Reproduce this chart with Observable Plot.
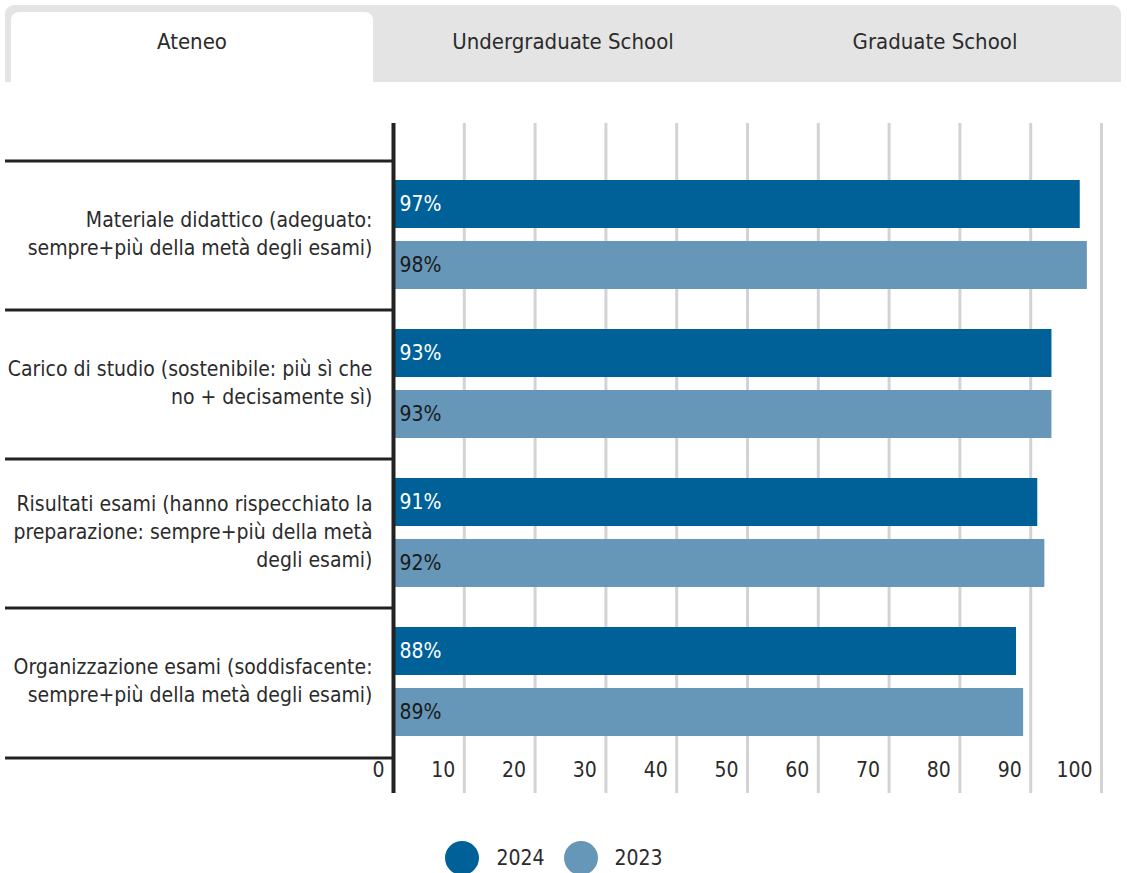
<!DOCTYPE html>
<html><head><meta charset="utf-8">
<script src="https://cdn.jsdelivr.net/npm/d3@7"></script>
<script src="https://cdn.jsdelivr.net/npm/@observablehq/plot@0.6"></script>
<style>
body{margin:0;background:#fff;font-family:"DejaVu Sans Condensed","DejaVu Sans",sans-serif;color:#2b2b2b;width:1127px;height:873px;position:relative;overflow:hidden;}
#tabs{position:absolute;left:5px;top:5px;width:1116px;height:77px;background:#e4e4e4;border-radius:9px 9px 0 0;}
.tab{position:absolute;top:0;height:74px;line-height:74px;width:372px;text-align:center;font-size:22px;color:#2b2b2b;}
.tab.active{background:#fff;left:6px;top:7px;width:362px;height:70px;line-height:60px;border-radius:8px 8px 0 0;}
#chart{position:absolute;left:0;top:90px;}
#legend{position:absolute;top:841px;left:0;width:1127px;display:flex;justify-content:center;align-items:center;font-size:21px;}
.sw{width:34px;height:34px;border-radius:50%;display:inline-block;margin-right:17px;}
.lab{margin-right:19px;}
</style></head><body>
<div id="tabs"></div>
<div id="chart"></div>
<div id="legend"></div>
<script>
const tabs = ["Ateneo", "Undergraduate School", "Graduate School"];
const categories = [
  "Materiale didattico (adeguato:\nsempre+più della metà degli esami)",
  "Carico di studio (sostenibile: più sì che\nno + decisamente sì)",
  "Risultati esami (hanno rispecchiato la\npreparazione: sempre+più della metà\ndegli esami)",
  "Organizzazione esami (soddisfacente:\nsempre+più della metà degli esami)"
];
const years = ["2024", "2023"];
const values2024 = [97, 93, 91, 88];
const values2023 = [98, 93, 92, 89];
const ticks = [0, 10, 20, 30, 40, 50, 60, 70, 80, 90, 100];
const colors = ["#006199", "#6697b9"];

// tabs
const tabsEl = document.getElementById("tabs");
tabs.forEach((t, i) => {
  const d = document.createElement("div");
  d.className = "tab" + (i === 0 ? " active" : "");
  if (i > 0) d.style.left = (i * 372) + "px";
  d.textContent = t;
  tabsEl.appendChild(d);
});

const rows2024 = categories.map((c, i) => ({category: c, year: years[0], value: values2024[i]}));
const rows2023 = categories.map((c, i) => ({category: c, year: years[1], value: values2023[i]}));

const font = '"DejaVu Sans Condensed","DejaVu Sans",sans-serif';
const chart = Plot.plot({
  width: 1127,
  height: 720,
  marginLeft: 393,
  marginRight: 26,
  marginTop: 33,
  marginBottom: 17,
  x: {domain: [0, 100], axis: null},
  y: {domain: categories, padding: 0, insetTop: 37, insetBottom: 35, axis: null},
  style: {fontFamily: font, fontSize: "21px", color: "#2b2b2b", background: "transparent", overflow: "visible"},
  marks: [
    Plot.ruleX(ticks.filter(t => t > 0), {stroke: "#d3d3d3", strokeWidth: 3}),
    Plot.barX(rows2024, {y: "category", x: "value", fill: colors[0], insetTop: 19, insetBottom: 82}),
    Plot.barX(rows2023, {y: "category", x: "value", fill: colors[1], insetTop: 80, insetBottom: 21}),
    Plot.ruleY(categories, {y: d => d, dy: -75, x1: -54.8, x2: 0, stroke: "#222", strokeWidth: 3}),
    Plot.ruleY(categories.slice(-1), {y: d => d, dy: 75, x1: -54.8, x2: 0, stroke: "#222", strokeWidth: 3}),
    Plot.ruleX([0], {stroke: "#222", strokeWidth: 4}),
    Plot.text(rows2024, {y: "category", x: 0, text: d => d.value + "%", dx: 6, dy: -31.5, textAnchor: "start", fill: "#fff"}),
    Plot.text(rows2023, {y: "category", x: 0, text: d => d.value + "%", dx: 6, dy: 29.5, textAnchor: "start", fill: "#1a1a1a"}),
    Plot.text(categories, {y: d => d, x: 0, text: d => d, dx: -21, dy: -4, textAnchor: "end", lineHeight: 1.35, fill: "#2b2b2b"}),
    Plot.text(ticks, {x: d => d, text: d => String(d), frameAnchor: "bottom", dx: -9, dy: -17, textAnchor: "end", fill: "#2b2b2b"})
  ]
});
document.getElementById("chart").appendChild(chart);

// legend
const lg = document.getElementById("legend");
years.forEach((y, i) => {
  const s = document.createElement("span"); s.className = "sw"; s.style.background = colors[i];
  const l = document.createElement("span"); l.className = "lab"; l.textContent = y;
  lg.appendChild(s); lg.appendChild(l);
});
</script>
</body></html>
